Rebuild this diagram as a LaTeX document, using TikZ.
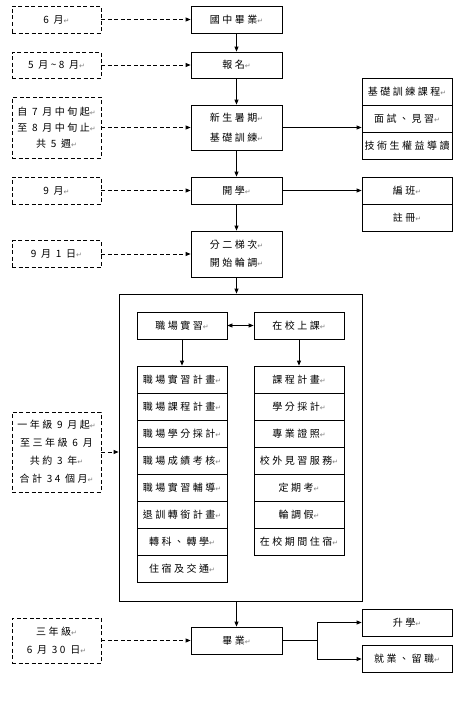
\documentclass[tikz,border=0pt]{standalone}
\usepackage{fontspec}
\usetikzlibrary{arrows.meta}
\newfontfamily\cjk[LetterSpace=25]{Noto Sans CJK TC}
\newfontfamily\markfont{DejaVu Sans}
\newcommand{\pmark}{{\markfont\color{gray}\fontsize{7}{7}\selectfont ↵}}
\tikzset{
  box/.style={draw, line width=0.8pt, minimum width=91, minimum height=27, inner sep=1pt,
    align=center, font=\cjk\fontsize{10}{18}\selectfont},
  datebox/.style={box, dash pattern=on 4pt off 2.5pt, minimum width=89},
  cell/.style={box, minimum width=90},
  flow/.style={-{Triangle[length=5pt,width=4pt]}, line width=0.8pt},
  dflow/.style={flow, dash pattern=on 4pt off 2.5pt}
}
\begin{document}
\begin{tikzpicture}[x=1pt,y=-1pt]
    \useasboundingbox (0,0) rectangle (467,704);

    % time column
    \node[datebox] (m1) at (56.5,19.5) {6 月\pmark};
    \node[datebox, minimum height=26] (m2) at (56.5,65) {5 月\textasciitilde8 月\pmark};
    \node[datebox, minimum height=61] (m3) at (56.5,127.5) {自 7 月中旬起\pmark\\[-2pt]至 8 月中旬止\pmark\\[-2pt]共 5 週\pmark};
    \node[datebox] (m4) at (56.5,190.5) {9 月\pmark};
    \node[datebox] (m5) at (56.5,254) {9 月 1 日\pmark};
    \node[datebox, minimum height=80] (m6) at (56.5,452) {一年級 9 月起\pmark\\至三年級 6 月\\共約 3 年\pmark\\合計 34 個月\pmark};
    \node[datebox, minimum height=45] (m7) at (56.5,640.5) {三年級\pmark\\6 月 30 日\pmark};

    % main column
    \node[box] (y1) at (236.5,19.5) {國中畢業\pmark};
    \node[box, minimum height=26] (y2) at (236.5,65) {報名\pmark};
    \node[box, minimum height=45] (y3) at (236.5,127.5) {新生暑期\pmark\\[2pt]基礎訓練\pmark};
    \node[box] (y4) at (236.5,190.5) {開學\pmark};
    \node[box, minimum height=46] (y5) at (236.5,254) {分二梯次\pmark\\開始輪調\pmark};
    \node[draw, line width=0.8pt, minimum width=243, minimum height=307] (big) at (240.5,447.5) {};
    \node[box] (y6) at (236.5,640.5) {畢業\pmark};

    % right column
    \node[cell] (train1) at (407,91.5) {基礎訓練課程\pmark};
    \node[cell] (train2) at (407,118.5) {面試、見習\pmark};
    \node[cell] (train3) at (407,145.5) {技術生權益導讀};
    \node[cell] (class1) at (407,190.5) {編班\pmark};
    \node[cell] (class2) at (407,218) {註冊\pmark};
    \node[cell] (out1) at (407,622.5) {升學\pmark};
    \node[cell] (out2) at (407,659) {就業、留職\pmark};

    % inside the big box
    \node[cell] (in1) at (182,325.5) {職場實習\pmark};
    \node[cell] (in2) at (299,325.5) {在校上課\pmark};
    \foreach \t [count=\i] in {職場實習計畫,職場課程計畫,職場學分採計,職場成績考核,職場實習輔導,退訓轉銜計畫,轉科、轉學,住宿及交通}
        \node[cell] (l\i) at (182,{379.5+27*(\i-1)}) {\t\pmark};
    \foreach \t [count=\i] in {課程計畫,學分採計,專業證照,校外見習服務,定期考,輪調假,在校期間住宿}
        \node[cell] (s\i) at (299,{379.5+27*(\i-1)}) {\t\pmark};

    % connectors
    \draw[dflow] (m1) -- (y1);
    \draw[dflow] (m2) -- (y2);
    \draw[dflow] (m3) -- (y3);
    \draw[dflow] (m4) -- (y4);
    \draw[dflow] (m5) -- (y5);
    \draw[dflow] (m6) -- (m6 -| big.west);
    \draw[dflow] (m7) -- (y6);

    \draw[flow] (y1) -- (y2);
    \draw[flow] (y2) -- (y3);
    \draw[flow] (y3) -- (y4);
    \draw[flow] (y4) -- (y5);
    \draw[flow] (y5) -- (y5 |- big.north);
    \draw[flow] (big.south -| y6) -- (y6);

    \draw[flow] (y3) -- (y3 -| train2.west);
    \draw[flow] (y4) -- (class1);

    \draw[{Triangle[length=5pt,width=4pt]}-{Triangle[length=5pt,width=4pt]}, line width=0.8pt] (in1) -- (in2);
    \draw[flow] (in1) -- (l1);
    \draw[flow] (in2) -- (s1);

    \draw[line width=0.8pt] (y6.east) -- ++(35,0) coordinate (fork);
    \draw[flow] (fork) |- (out1);
    \draw[flow] (fork) |- (out2);

\end{tikzpicture}
\end{document}
